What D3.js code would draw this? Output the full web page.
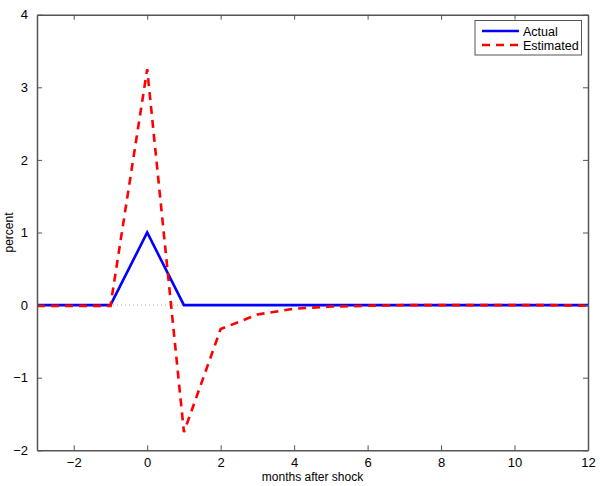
<!DOCTYPE html>
<html><head><meta charset="utf-8">
<script src="https://cdn.jsdelivr.net/npm/d3@7"></script>
<style>body{margin:0;background:#fff}svg text{font-family:"Liberation Sans",Arial,sans-serif}</style>
</head><body><svg id="c" width="600" height="486"></svg>
<script>
const months = [-3,-2,-1,0,1,2,3,4,5,6,7,8,9,10,11,12];
const actual = [0,0,0,1,0,0,0,0,0,0,0,0,0,0,0,0];
const estimated = [-0.01,-0.01,-0.01,3.25,-1.75,-0.33,-0.13,-0.05,-0.02,-0.01,0,0,0,0,0,-0.01];
const xTicks = [-2,0,2,4,6,8,10,12];
const yTicks = [-2,-1,0,1,2,3,4];
const seriesNames = ["Actual","Estimated"];

const svg = d3.select("#c");
const L=37,R=588,T=14.7,B=450.3;
const x = d3.scaleLinear().domain([-3,12]).range([L,R]);
const y = d3.scaleLinear().domain([-2,4]).range([B,T]);
const fmt = d => (d<0?"\u2212"+Math.abs(d):String(d));
const axisCol="#555";

// zero dotted line
svg.append("line").attr("x1",L).attr("x2",R).attr("y1",y(0)).attr("y2",y(0))
  .attr("stroke","#aaa").attr("stroke-width",1).attr("stroke-dasharray","1,3");

const line = d3.line().x((d,i)=>x(months[i])).y(d=>y(d));
svg.append("path").datum(actual).attr("d",line).attr("fill","none")
  .attr("stroke","#0000ff").attr("stroke-width",2.6);
svg.append("path").datum(estimated).attr("d",line).attr("fill","none")
  .attr("stroke","#ff0000").attr("stroke-width",2.6).attr("stroke-dasharray","8,6");

// axes
const gb = svg.append("g").attr("transform",`translate(0,${B})`)
  .call(d3.axisBottom(x).tickValues(xTicks).tickFormat(fmt).tickSizeInner(-5).tickSizeOuter(0).tickPadding(7));
const gt = svg.append("g").attr("transform",`translate(0,${T})`)
  .call(d3.axisTop(x).tickValues(xTicks).tickFormat("").tickSizeInner(-5).tickSizeOuter(0));
const gl = svg.append("g").attr("transform",`translate(${L},0)`)
  .call(d3.axisLeft(y).tickValues(yTicks).tickFormat(fmt).tickSizeInner(-5).tickSizeOuter(0).tickPadding(9));
const gr = svg.append("g").attr("transform",`translate(${R},0)`)
  .call(d3.axisRight(y).tickValues(yTicks).tickFormat("").tickSizeInner(-5).tickSizeOuter(0));
[gb,gt,gl,gr].forEach(g=>{
  g.selectAll("path").attr("stroke",axisCol).attr("stroke-width",1.5);
  g.selectAll("line").attr("stroke",axisCol);
  g.selectAll("text").attr("fill","#000").attr("font-size",13);
});

svg.append("text").attr("x",(L+R)/2).attr("y",481).attr("text-anchor","middle")
  .attr("font-size",12).text("months after shock");
svg.append("text").attr("transform",`translate(13,${(T+B)/2}) rotate(-90)`).attr("text-anchor","middle")
  .attr("font-size",12).text("percent");

// legend
const lg = svg.append("g");
lg.append("rect").attr("x",475).attr("y",20.5).attr("width",106.5).attr("height",34.5)
  .attr("fill","#fff").attr("stroke",axisCol).attr("stroke-width",1);
const cols=["#0000ff","#ff0000"], dashes=[null,"8,6"];
seriesNames.forEach((n,i)=>{
  const yy=31+i*14;
  lg.append("line").attr("x1",482).attr("x2",519).attr("y1",yy).attr("y2",yy)
    .attr("stroke",cols[i]).attr("stroke-width",2.6).attr("stroke-dasharray",dashes[i]);
  lg.append("text").attr("x",523).attr("y",yy+4.5).attr("font-size",12.5).text(n);
});
</script></body></html>
